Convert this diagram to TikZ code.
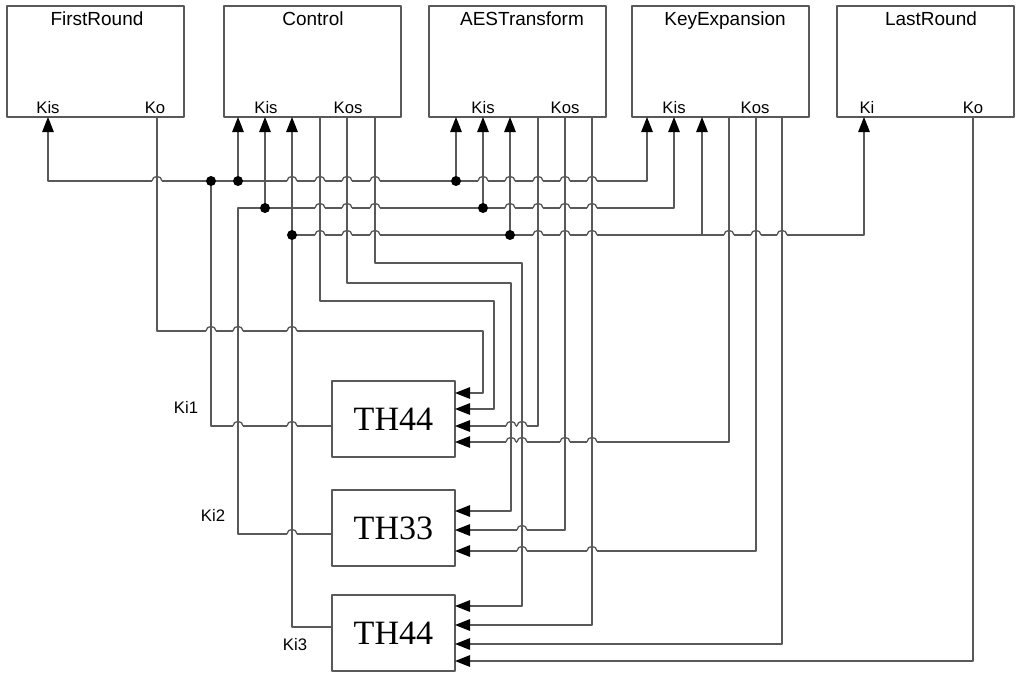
\documentclass[tikz,border=0pt]{standalone}
\usepackage{fontspec}
\setmainfont{Liberation Sans}
\newfontfamily\thfont{Liberation Serif}
\usetikzlibrary{arrows.meta}
\definecolor{wirec}{gray}{0.35}
\begin{document}
\begin{tikzpicture}[x=0.02cm, y=-0.02cm, line join=round, >={Triangle[length=8.6pt,width=6.6pt,color=black]},
 wire/.style={draw=wirec, line width=0.75pt},
 blk/.style={draw=wirec, line width=0.75pt, inner sep=0pt, minimum width=3.54cm, minimum height=2.22cm},
 thblk/.style={draw=wirec, line width=0.75pt, inner sep=0pt, minimum width=2.46cm, minimum height=1.52cm, font=\thfont\fontsize{19.4}{22}\selectfont},
 ttl/.style={anchor=base, inner sep=0pt, font=\fontsize{10.8}{12}\selectfont},
 port/.style={anchor=base, inner sep=0pt, font=\fontsize{9.5}{11}\selectfont}]
\useasboundingbox (0,0) rectangle (1024,677);
% blocks
\node[blk] (first) at (95.5,61.5) {};
\node[blk] (ctrl) at (312.5,61.5) {};
\node[blk] (aes) at (517.5,61.5) {};
\node[blk] (keyexp) at (720.5,61.5) {};
\node[blk] (last) at (925.5,61.5) {};
\node[thblk] (tha) at (393.5,419) {TH44};
\node[thblk] (thb) at (393.5,528) {TH33};
\node[thblk] (thc) at (393.5,633) {TH44};
% titles and ports
\foreach \n/\x/\t in {first-t/97/FirstRound, ctrl-t/313/Control, aes-t/522/AESTransform, keyexp-t/725/KeyExpansion, last-t/931/LastRound}
 \node[ttl] (\n) at (\x,25) {\t};
\foreach \n/\x/\t in {first-kis-l/48/Kis, first-ko-l/155/Ko, ctrl-kis-l/266/Kis, ctrl-kos-l/348/Kos, aes-kis-l/483/Kis, aes-kos-l/565/Kos, keyexp-kis-l/674/Kis, keyexp-kos-l/755/Kos, last-ki-l/867/Ki, last-ko-l/973/Ko}
 \node[port] (\n) at (\x,113) {\t};
\node[port] (ki1-l) at (186,413) {Ki1};
\node[port] (ki2-l) at (213,521.5) {Ki2};
\node[port] (ki3-l) at (295,650) {Ki3};
% port points
\foreach \n/\x in {first-kis/48, first-ko/157, ctrl-kis1/238, ctrl-kis2/265, ctrl-kis3/292, ctrl-kos1/320, ctrl-kos2/347, ctrl-kos3/375,
 aes-kis1/456, aes-kis2/483, aes-kis3/510, aes-kos1/538, aes-kos2/565, aes-kos3/592,
 keyexp-kis1/647, keyexp-kis2/674, keyexp-kis3/702, keyexp-kos1/729, keyexp-kos2/756, keyexp-kos3/782, last-ki/864, last-ko/973}
 \coordinate (\n) at (\x,117);
\foreach \n/\y in {tha-in1/393, tha-in2/409, tha-in3/426, tha-in4/442, thb-in1/511, thb-in2/530, thb-in3/551, thc-in1/606, thc-in2/625, thc-in3/644, thc-in4/661}
 \coordinate (\n) at (455,\y);
\coordinate (tha-ki) at (332,426);
\coordinate (thb-ki) at (332,534);
\coordinate (thc-ki) at (332,627);
\coordinate (bus1) at (0,181); \coordinate (bus2) at (0,208); \coordinate (bus3) at (0,235);
\coordinate (ki1) at (211,181); \coordinate (ki2) at (238,208); \coordinate (ki3) at (292,235);
% key buses
\draw[wire,<->] (first-kis) |- (bus1 -| keyexp-kis1) -- (keyexp-kis1);
\draw[wire] (ki1) |- (tha-ki);
\draw[wire,->] (thb-ki) -| (ki2) -| (keyexp-kis2);
\draw[wire,->] (thc-ki) -| (ki3) -| (last-ki);
\foreach \p/\b in {ctrl-kis1/bus1, aes-kis1/bus1, ctrl-kis2/bus2, aes-kis2/bus2, ctrl-kis3/bus3, aes-kis3/bus3, keyexp-kis3/bus3}
 \draw[wire,->] (\b -| \p) -- (\p);
% outputs to TH blocks
\draw[wire,->] (first-ko) |- (483,331) |- (tha-in1);
\draw[wire,->] (ctrl-kos1) |- (494,301) |- (tha-in2);
\draw[wire,->] (ctrl-kos2) |- (511,283) |- (thb-in1);
\draw[wire,->] (ctrl-kos3) |- (522,263) |- (thc-in1);
\foreach \a/\b in {aes-kos1/tha-in3, aes-kos2/thb-in2, aes-kos3/thc-in2, keyexp-kos1/tha-in4, keyexp-kos2/thb-in3, keyexp-kos3/thc-in3, last-ko/thc-in4}
 \draw[wire,->] (\a) |- (\b);
% line hops
\foreach \x/\y in {157/181, 292/181, 320/181, 347/181, 375/181, 483/181, 510/181, 538/181, 565/181, 592/181,
 320/208, 347/208, 375/208, 510/208, 538/208, 565/208, 592/208,
 320/235, 347/235, 375/235, 538/235, 565/235, 592/235, 729/235, 756/235, 782/235,
 211/331, 238/331, 292/331, 238/426, 292/426, 292/534,
 511/426, 522/426, 511/442, 522/442, 565/442, 592/442, 522/530, 522/551, 592/551} {
 \fill[white] (\x-5,\y-1.6) rectangle (\x+5,\y+1.6);
 \draw[wire] (\x-5,\y) .. controls (\x-5,\y-6) and (\x+5,\y-6) .. (\x+5,\y);
 \draw[wire] (\x,\y-3) -- (\x,\y+3);
}
% junctions
\foreach \x/\y in {211/181, 238/181, 456/181, 265/208, 483/208, 292/235, 510/235}
 \fill (\x,\y) circle (5);
\end{tikzpicture}
\end{document}
